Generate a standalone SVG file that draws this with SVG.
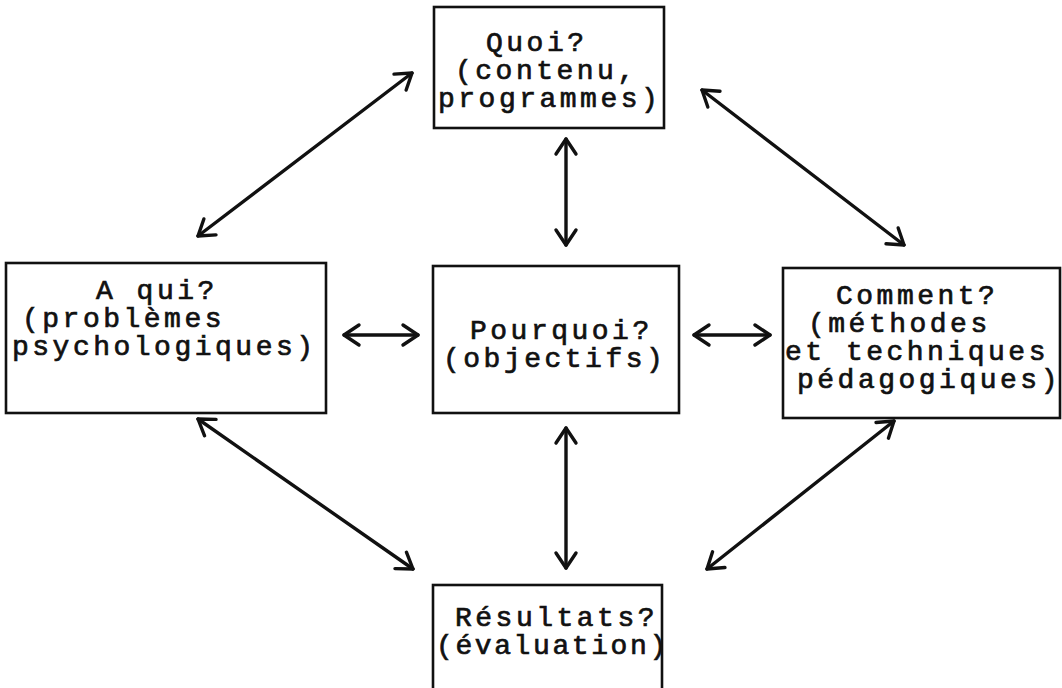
<svg xmlns="http://www.w3.org/2000/svg" width="1062" height="688" viewBox="0 0 1062 688">
<defs>
<style>
.box{fill:#fff;stroke:#111;stroke-width:2.6}
.t{font-family:"Liberation Mono","Courier New",monospace;font-size:28px;letter-spacing:3.5px;fill:#111;stroke:#111;stroke-width:0.7}
.c{fill:none;stroke:#111;stroke-width:3.4;stroke-linecap:round}
</style>
<marker id="ah" viewBox="-20 -14 24 28" refX="0" refY="0" markerWidth="24" markerHeight="28" markerUnits="userSpaceOnUse" orient="auto-start-reverse">
<path d="M-15,-10 L0,0 L-15,10" fill="none" stroke="#111" stroke-width="3.4" stroke-linecap="round" stroke-linejoin="round"/>
</marker>
</defs>
<rect width="1062" height="688" fill="#fff"/>
<g id="connectors">
<line class="c" x1="198" y1="236" x2="412" y2="73" marker-start="url(#ah)" marker-end="url(#ah)"/>
<line class="c" x1="702" y1="90" x2="904" y2="245" marker-start="url(#ah)" marker-end="url(#ah)"/>
<line class="c" x1="566" y1="139" x2="566" y2="245" marker-start="url(#ah)" marker-end="url(#ah)"/>
<line class="c" x1="344" y1="335" x2="418" y2="335" marker-start="url(#ah)" marker-end="url(#ah)"/>
<line class="c" x1="694" y1="335" x2="770" y2="335" marker-start="url(#ah)" marker-end="url(#ah)"/>
<line class="c" x1="566" y1="428" x2="566" y2="568" marker-start="url(#ah)" marker-end="url(#ah)"/>
<line class="c" x1="198" y1="419" x2="413" y2="569" marker-start="url(#ah)" marker-end="url(#ah)"/>
<line class="c" x1="707" y1="569" x2="894" y2="421" marker-start="url(#ah)" marker-end="url(#ah)"/>
</g>
<g id="quoi">
<rect class="box" x="434" y="7" width="230" height="121"/>
<text class="t" x="486" y="51">Quoi?</text>
<text class="t" x="455" y="79">(contenu,</text>
<text class="t" x="438" y="107">programmes)</text>
</g>
<g id="aqui">
<rect class="box" x="6" y="263" width="320" height="150"/>
<text class="t" x="96" y="299">A qui?</text>
<text class="t" x="22" y="327">(problèmes</text>
<text class="t" x="12" y="355">psychologiques)</text>
</g>
<g id="pourquoi">
<rect class="box" x="433" y="266" width="246" height="147"/>
<text class="t" x="470" y="339">Pourquoi?</text>
<text class="t" x="443" y="367">(objectifs)</text>
</g>
<g id="comment">
<rect class="box" x="783" y="268" width="277" height="150"/>
<text class="t" x="836" y="304">Comment?</text>
<text class="t" x="808" y="332">(méthodes</text>
<text class="t" x="785" y="360">et techniques</text>
<text class="t" x="797" y="388">pédagogiques)</text>
</g>
<g id="resultats">
<rect class="box" x="433" y="585" width="229" height="120"/>
<text class="t" x="455" y="626">Résultats?</text>
<text class="t" x="436" y="654" style="letter-spacing:2.6px">(évaluation)</text>
</g>
</svg>
